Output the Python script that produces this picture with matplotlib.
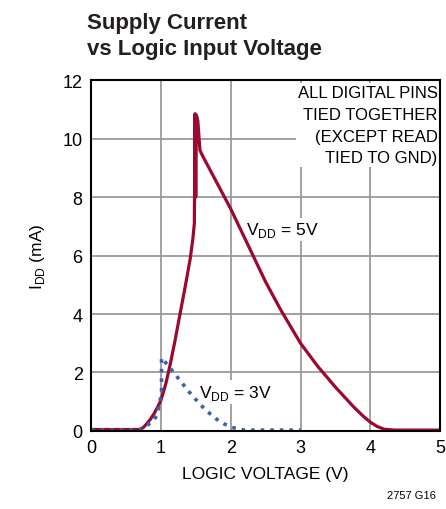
import matplotlib
matplotlib.use("Agg")
import matplotlib.pyplot as plt

plt.rcParams['font.family'] = ['Liberation Sans', 'DejaVu Sans']
plt.rcParams['mathtext.fontset'] = 'custom'
plt.rcParams['mathtext.rm'] = 'Liberation Sans'

# V_DD = 5V curve
x_5v = [0.0, 0.5, 0.70, 0.75, 0.80, 0.85, 0.90, 0.95, 1.00, 1.07, 1.13, 1.20, 1.27,
        1.35, 1.42, 1.46, 1.48, 1.49, 1.50, 1.51, 1.53, 1.56, 1.60, 2.00, 2.50,
        2.71, 3.00, 3.25, 3.50, 3.75, 3.90, 4.00, 4.10, 4.20, 4.35, 5.00]
y_5v = [0.05, 0.05, 0.05, 0.12, 0.25, 0.40, 0.58, 0.80, 1.04, 1.60, 2.23, 3.05, 3.94,
        4.95, 5.88, 6.60, 7.10, 10.85, 8.00, 10.80, 10.60, 9.60, 9.40, 7.60, 5.10,
        4.17, 3.00, 2.20, 1.50, 0.85, 0.50, 0.30, 0.15, 0.06, 0.03, 0.03]

# V_DD = 3V curve
x_3v = [0.0, 0.5, 0.70, 0.80, 0.90, 0.94, 0.98, 1.01, 1.01, 1.03, 1.10, 1.20, 1.30,
        1.40, 1.50, 1.60, 1.70, 1.80, 1.90, 2.00, 2.10, 2.20, 3.00]
y_3v = [0.03, 0.03, 0.05, 0.18, 0.38, 0.52, 0.90, 1.33, 2.50, 2.45, 2.25, 1.95, 1.65,
        1.35, 1.08, 0.82, 0.60, 0.40, 0.25, 0.14, 0.07, 0.03, 0.03]

x_ticks = [0, 1, 2, 3, 4, 5]
y_ticks = [0, 2, 4, 6, 8, 10, 12]

RED = '#9a0a30'
BLUE = '#3c5fae'

fig = plt.figure(figsize=(4.46, 5.10), dpi=100)
ax = fig.add_axes([0.204, 0.153, 0.783, 0.688])

ax.plot(x_5v, y_5v, color=RED, lw=2.3, solid_joinstyle='round', zorder=3)
ax.plot(x_3v, y_3v, color=BLUE, lw=2.6, linestyle=':', zorder=4)

ax.set_xlim(0, 5)
ax.set_ylim(0, 12)
ax.set_xticks(x_ticks)
ax.set_yticks(y_ticks)
ax.tick_params(length=0, labelsize=13, pad=6)
ax.grid(True, color='#9a9a9a', lw=1.3)
ax.set_axisbelow(True)
for s in ax.spines.values():
    s.set_linewidth(1.5)
    s.set_color('black')
    s.set_zorder(5)

ax.set_xlabel('LOGIC VOLTAGE (V)', fontsize=12.5, labelpad=7)
ax.set_ylabel('I$_{\\mathregular{DD}}$ (mA)', fontsize=12.5, labelpad=11)

box = dict(facecolor='white', edgecolor='none', pad=1.5)
ax.text(4.96, 11.82, 'ALL DIGITAL PINS\nTIED TOGETHER\n(EXCEPT READ\nTIED TO GND)',
        ha='right', va='top', fontsize=12, linespacing=1.55, bbox=box, zorder=4)
ax.text(2.22, 6.9, 'V$_{\\mathregular{DD}}$ = 5V', ha='left', va='center',
        fontsize=12.5, bbox=box, zorder=2)
ax.text(1.55, 1.33, 'V$_{\\mathregular{DD}}$ = 3V', ha='left', va='center',
        fontsize=12.5, bbox=box, zorder=2)

fig.text(0.195, 0.929, 'Supply Current\nvs Logic Input Voltage', ha='left', va='center',
         fontsize=16, fontweight='bold', linespacing=1.3, color='#231f20')
fig.text(0.978, 0.018, '2757 G16', ha='right', va='bottom', fontsize=8)

fig.savefig('out.png', dpi=100)
